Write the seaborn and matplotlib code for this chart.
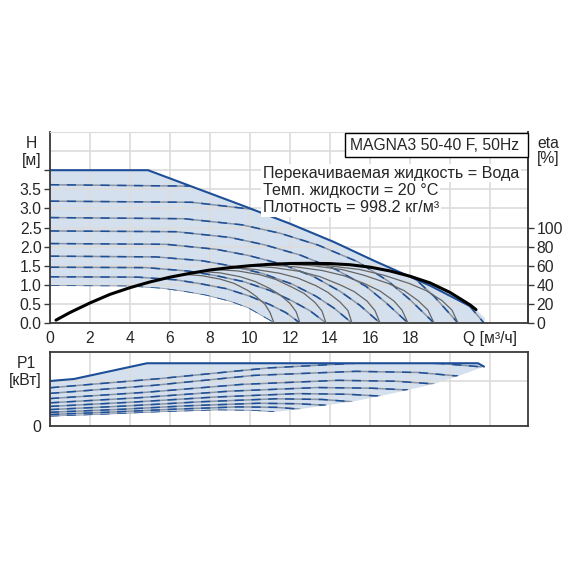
import pandas as pd
import seaborn as sns
import matplotlib.pyplot as plt
from matplotlib.patches import Polygon, Rectangle

# ---- Q-H curves, one per speed (Q in m3/h, H in m), lowest speed first
qh_q = [
    [0, 3.9, 5.6, 6.7, 7.8, 9.0, 9.9, 10.5, 11.2],
    [0, 4.4, 6.3, 7.5, 8.8, 10.0, 11.0, 11.8, 12.5],
    [0, 4.8, 6.9, 8.3, 9.7, 11.0, 12.1, 13.0, 13.8],
    [0, 5.3, 7.6, 9.1, 10.6, 12.1, 13.3, 14.2, 15.1],
    [0, 5.8, 8.3, 9.9, 11.6, 13.2, 14.5, 15.5, 16.5],
    [0, 6.3, 9.0, 10.7, 12.5, 14.3, 15.8, 16.8, 17.9],
    [0, 6.7, 9.6, 11.5, 13.4, 15.4, 16.9, 18.0, 19.2],
    [0, 7.1, 10.2, 12.2, 14.3, 16.3, 18.0, 19.2, 20.4],
    [0, 7.6, 10.9, 13.0, 15.2, 17.4, 19.1, 20.4, 21.7],
]
qh_h = [
    [0.97, 0.96, 0.90, 0.82, 0.72, 0.56, 0.39, 0.21, 0],
    [1.21, 1.20, 1.13, 1.03, 0.90, 0.70, 0.48, 0.27, 0],
    [1.46, 1.45, 1.36, 1.24, 1.08, 0.85, 0.58, 0.32, 0],
    [1.75, 1.73, 1.63, 1.49, 1.30, 1.02, 0.70, 0.39, 0],
    [2.08, 2.06, 1.93, 1.77, 1.54, 1.21, 0.83, 0.46, 0],
    [2.41, 2.39, 2.24, 2.05, 1.78, 1.40, 0.96, 0.53, 0],
    [2.76, 2.73, 2.57, 2.35, 2.04, 1.60, 1.10, 0.61, 0],
    [3.19, 3.16, 2.97, 2.71, 2.36, 1.85, 1.28, 0.70, 0],
    [3.62, 3.58, 3.37, 3.08, 2.68, 2.10, 1.45, 0.80, 0],
]
max_q = [0, 4.9, 9.5, 12.0, 14.2, 16.2, 19.0, 21.3]
max_h = [4.0, 4.0, 3.1, 2.6, 2.12, 1.63, 0.98, 0.36]
tip_q = [21.75, 21.7]
tip_h = [0.12, 0.0]

# ---- efficiency (%)
eta_q = [0.3, 1, 2, 3, 4, 5, 6, 7, 8, 9, 10, 11, 12, 13, 14, 15, 16, 17, 18, 19, 20, 21, 21.3]
eta_v = [3, 11, 21, 30, 37, 43, 48, 52, 55.5, 58, 60, 61.5, 62.3, 62.5, 62.2, 61, 58.5, 54.5, 49, 42, 32, 19, 14]
arc_q = [
    [6.7, 7.6, 8.5, 9.2, 9.9, 10.3, 10.75, 11.0, 11.2],
    [7.5, 8.5, 9.5, 10.25, 11.0, 11.5, 12.0, 12.3, 12.5],
    [8.3, 9.4, 10.5, 11.3, 12.1, 12.7, 13.25, 13.6, 13.8],
    [9.1, 10.3, 11.5, 12.4, 13.3, 13.9, 14.5, 14.9, 15.1],
    [9.9, 11.2, 12.5, 13.5, 14.5, 15.2, 15.85, 16.25, 16.5],
    [10.7, 12.2, 13.6, 14.7, 15.75, 16.5, 17.2, 17.6, 17.9],
    [11.5, 13.1, 14.6, 15.7, 16.9, 17.7, 18.4, 18.9, 19.2],
    [12.2, 13.9, 15.5, 16.7, 17.95, 18.8, 19.6, 20.1, 20.4],
]
arc_v = [
    [51, 49.5, 46, 41.5, 34, 28, 19.5, 11, 0],
    [54, 52.5, 48.5, 43.5, 36, 29.5, 20.5, 12, 0],
    [56, 54.5, 50.5, 45.5, 37.5, 31, 21.5, 12.5, 0],
    [58, 56, 52, 47, 39, 32, 22, 13, 0],
    [60, 58, 54, 48.5, 40, 33, 23, 13, 0],
    [61, 59, 55, 49.5, 41, 33.5, 23, 13.5, 0],
    [62, 60, 56, 50, 41.5, 34, 23.5, 13.5, 0],
    [62, 60, 56, 50, 41.5, 34, 23.5, 13.5, 0],
]

# ---- power P1 (kW)
p_q = [
    [0, 2.8, 5.6, 8.4, 10.1, 11.2],
    [0, 3.1, 6.3, 9.4, 11.3, 12.5],
    [0, 3.5, 6.9, 10.4, 12.4, 13.8],
    [0, 3.8, 7.6, 11.3, 13.6, 15.1],
    [0, 4.1, 8.3, 12.4, 14.9, 16.5],
    [0, 4.5, 9.0, 13.4, 16.1, 17.9],
    [0, 4.8, 9.6, 14.4, 17.3, 19.2],
    [0, 5.1, 10.2, 15.3, 18.4, 20.4],
    [0, 5.4, 10.9, 16.3, 19.5, 21.7],
]
p_v = [
    [0.042, 0.051, 0.062, 0.070, 0.068, 0.062],
    [0.051, 0.062, 0.075, 0.085, 0.083, 0.075],
    [0.061, 0.074, 0.090, 0.101, 0.099, 0.092],
    [0.073, 0.089, 0.108, 0.121, 0.118, 0.108],
    [0.087, 0.106, 0.129, 0.144, 0.141, 0.133],
    [0.103, 0.126, 0.155, 0.171, 0.168, 0.160],
    [0.122, 0.150, 0.185, 0.203, 0.199, 0.187],
    [0.145, 0.180, 0.225, 0.243, 0.238, 0.222],
    [0.170, 0.210, 0.258, 0.284, 0.278, 0.262],
]
pmax_q = [0, 1.2, 4.85, 21.4, 21.7]
pmax_v = [0.200, 0.209, 0.279, 0.279, 0.264]

x_ticks = [0, 2, 4, 6, 8, 10, 12, 14, 16, 18, 20, 22]
x_labels = ['0', '2', '4', '6', '8', '10', '12', '14', '16', '18', '', 'Q [м³/ч]']
h_ticks = [0, 0.5, 1.0, 1.5, 2.0, 2.5, 3.0, 3.5, 4.0]
h_labels = ['0.0', '0.5', '1.0', '1.5', '2.0', '2.5', '3.0', '3.5', '']
eta_ticks = [0, 20, 40, 60, 80, 100]

SHADE = '#d4e0ed'
BLUE = '#1d4f98'
BASE = '#8a94a4'
GRID = '#dcdcdc'
DARK = '#3a3a3a'
FS = 11.3

sns.set_style('white')
plt.rcParams['font.family'] = ['Liberation Sans', 'DejaVu Sans']
plt.rcParams['font.size'] = FS


def draw(ax, qs, ys, clip=None, dashed=False, **kw):
    rows = [(i, q, y) for i, (qq, yy) in enumerate(zip(qs, ys)) for q, y in zip(qq, yy)]
    df = pd.DataFrame(rows, columns=['curve', 'Q', 'Y'])
    n = len(ax.lines)
    sns.lineplot(data=df, x='Q', y='Y', units='curve', estimator=None, sort=False,
                 ax=ax, legend=False, **kw)
    for ln in ax.lines[n:]:
        if clip is not None:
            ln.set_clip_path(clip)
        if dashed:
            ln.set_dashes((6, 5))
    ax.set_xlabel('')
    ax.set_ylabel('')


fig = plt.figure(figsize=(5.7, 5.7), dpi=100)
ax = fig.add_axes([50 / 570, 1 - 323 / 570, 478 / 570, 191 / 570])
axp = fig.add_axes([50 / 570, 1 - 426 / 570, 478 / 570, 74 / 570])

# ---------- top: H ----------
verts = list(zip(max_q, max_h)) + list(zip(tip_q, tip_h)) + list(zip(qh_q[0][::-1], qh_h[0][::-1]))
shade = Polygon(verts, closed=True, fc=SHADE, ec='none', zorder=1)
ax.add_patch(shade)

draw(ax, qh_q, qh_h, clip=shade, color=BASE, linewidth=1.1)
draw(ax, qh_q, qh_h, clip=shade, dashed=True, color=BLUE, linewidth=1.1)
draw(ax, [max_q], [max_h], color=BLUE, linewidth=1.5)

ax.set_xlim(0, 23.9)
ax.set_ylim(0, 5)
ax.set_xticks(x_ticks)
ax.set_xticklabels(x_labels)
ax.set_yticks(h_ticks)
ax.set_yticklabels(h_labels)
ax.set_yticks([4.5, 5.0], minor=True)
ax.grid(True, which='both', color=GRID, linewidth=1.2)
ax.set_axisbelow('line')
ax.tick_params(axis='both', which='major', direction='out', length=4, width=1,
               color=DARK, labelsize=FS, pad=2)
ax.tick_params(axis='y', which='minor', length=0)
for side in ['left', 'bottom', 'right']:
    ax.spines[side].set_color(DARK)
    ax.spines[side].set_linewidth(1.3)
ax.spines['top'].set_color(GRID)

# efficiency on twin axis
ax2 = ax.twinx()
draw(ax2, arc_q, arc_v, color='#666666', linewidth=0.9)
draw(ax2, [eta_q], [eta_v], color='black', linewidth=2.2)
ax2.set_ylim(0, 200)
ax2.set_xlim(0, 23.9)
ax2.set_yticks(eta_ticks)
ax2.tick_params(axis='y', direction='out', length=4, width=1, color=DARK, labelsize=FS, pad=2)
for side in ['left', 'top', 'bottom']:
    ax2.spines[side].set_visible(False)
ax2.spines['right'].set_color(DARK)
ax2.spines['right'].set_linewidth(1.3)

# texts
fig.patches.append(Rectangle((345 / 570, 1 - 157 / 570), 183 / 570, 24 / 570,
                             transform=fig.transFigure, fc='white', ec='black', lw=1, zorder=5))
fig.text(435 / 570, 1 - 145 / 570, 'MAGNA3 50-40 F, 50Hz', ha='center', va='center',
         fontsize=FS, zorder=6)
info = ['Перекачиваемая жидкость = Вода', 'Темп. жидкости = 20 °C', 'Плотность = 998.2 кг/м³']
for i, s in enumerate(info):
    fig.text(263 / 570, 1 - (173 + 17.5 * i) / 570, s, ha='left', va='center', fontsize=11.6,
             zorder=6, bbox=dict(boxstyle='square,pad=0.1', fc='white', ec='none'))
fig.text(31 / 570, 1 - 143 / 570, 'H', ha='center', va='center', fontsize=FS)
fig.text(32 / 570, 1 - 161 / 570, '[м]', ha='center', va='center', fontsize=FS)
fig.text(537 / 570, 1 - 143 / 570, 'eta', ha='left', va='center', fontsize=FS)
fig.text(537 / 570, 1 - 158 / 570, '[%]', ha='left', va='center', fontsize=FS)

# ---------- bottom: P1 ----------
pverts = list(zip(pmax_q, pmax_v)) + [(p_q[i][-1], p_v[i][-1]) for i in range(7, -1, -1)] \
    + list(zip(p_q[0][::-1], p_v[0][::-1]))
pshade = Polygon(pverts, closed=True, fc=SHADE, ec='none', zorder=1)
axp.add_patch(pshade)
draw(axp, p_q, p_v, clip=pshade, color=BASE, linewidth=1.1)
draw(axp, p_q, p_v, clip=pshade, dashed=True, color=BLUE, linewidth=1.1)
draw(axp, [pmax_q], [pmax_v], color=BLUE, linewidth=1.5)

axp.set_xlim(0, 23.9)
axp.set_ylim(0, 0.329)
axp.set_xticks(x_ticks)
axp.set_xticklabels([])
axp.set_yticks([0, 0.2])
axp.set_yticklabels(['0', ''])
axp.grid(True, color=GRID, linewidth=1.2)
axp.set_axisbelow('line')
axp.tick_params(axis='x', length=0)
axp.tick_params(axis='y', direction='out', length=4, width=1, color=DARK, labelsize=FS, pad=2)
for side in axp.spines:
    axp.spines[side].set_color(DARK)
    axp.spines[side].set_linewidth(1.3)
fig.text(26 / 570, 1 - 363 / 570, 'P1', ha='center', va='center', fontsize=FS)
fig.text(25 / 570, 1 - 381 / 570, '[кВт]', ha='center', va='center', fontsize=FS)

fig.savefig('out.png', dpi=100, facecolor='white')
